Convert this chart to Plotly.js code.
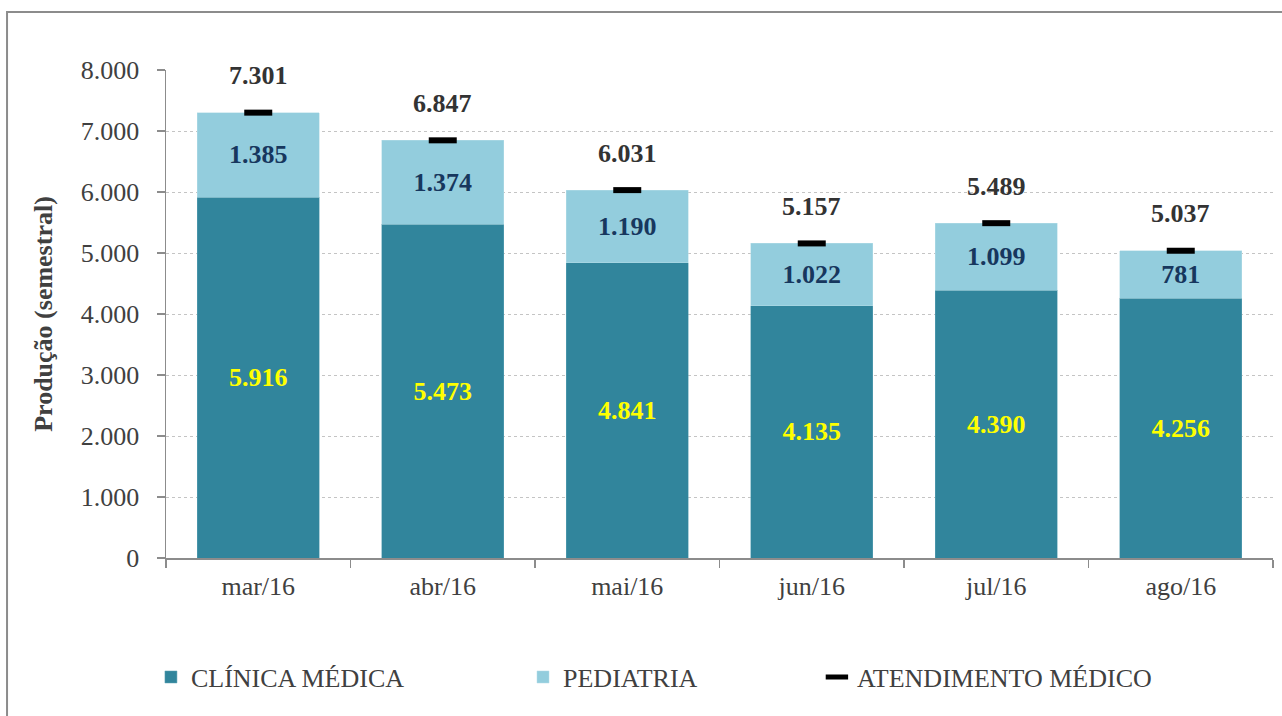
<!DOCTYPE html>
<html>
<head>
<meta charset="utf-8">
<script src="https://cdn.plot.ly/plotly-3.0.1.min.js"></script>
<style>
html,body{margin:0;padding:0;background:#fff;}
#chart{width:1282px;height:716px;}
</style>
</head>
<body>
<div id="chart"></div>
<script>
const categories = ['mar/16','abr/16','mai/16','jun/16','jul/16','ago/16'];
const clinicaMedica = [5916, 5473, 4841, 4135, 4390, 4256];
const pediatria = [1385, 1374, 1190, 1022, 1099, 781];
const atendimentoMedico = [7301, 6847, 6031, 5157, 5489, 5037];

const FONT = 'Liberation Serif, Times New Roman, serif';
const TEAL = '#31859C';
const LIGHT = '#93CDDD';

const traces = [
  {
    type: 'bar', name: 'CLÍNICA MÉDICA', x: categories, y: clinicaMedica,
    marker: {color: TEAL, line: {color: '#5fa3b5', width: 0.5}},
    texttemplate: '%{y:,.0f}', textposition: 'inside', insidetextanchor: 'middle',
    textfont: {family: FONT, size: 26, color: '#FFFF00', weight: 'bold'},
    constraintext: 'none', hoverinfo: 'skip', legend: 'legend'
  },
  {
    type: 'bar', name: 'PEDIATRIA', x: categories, y: pediatria,
    marker: {color: LIGHT, line: {color: '#b5dde8', width: 0.5}},
    texttemplate: '%{y:,.0f}', textposition: 'inside', insidetextanchor: 'middle',
    textfont: {family: FONT, size: 26, color: '#17375E', weight: 'bold'},
    constraintext: 'none', hoverinfo: 'skip', legend: 'legend2'
  },
  {
    type: 'scatter', mode: 'markers', name: 'ATENDIMENTO MÉDICO', x: categories, y: atendimentoMedico,
    marker: {symbol: 'line-ew', size: 20, color: '#000', line: {color: '#000', width: 6}},
    hoverinfo: 'skip', legend: 'legend3', cliponaxis: false
  }
];

const annotations = categories.map((c, i) => ({
  x: c, y: atendimentoMedico[i], xref: 'x', yref: 'y',
  text: atendimentoMedico[i].toLocaleString('de-DE'),
  showarrow: false, yshift: 37, yanchor: 'middle',
  font: {family: FONT, size: 26, color: '#333333', weight: 'bold'}
}));

const legendBase = {
  orientation: 'h', yanchor: 'middle', xanchor: 'left', y: -0.244,
  font: {family: FONT, size: 26, color: '#404040'},
  bgcolor: 'rgba(0,0,0,0)', itemclick: false, itemdoubleclick: false
};

const layout = {
  width: 1282, height: 716,
  margin: {l: 166, r: 9, t: 70, b: 158},
  paper_bgcolor: '#fff', plot_bgcolor: '#fff',
  barmode: 'stack', bargap: 0.34,
  separators: ',.',
  font: {family: FONT, size: 26, color: '#404040'},
  xaxis: {
    type: 'category', showgrid: false, zeroline: false,
    showline: true, linecolor: '#8c8c8c', linewidth: 1.5,
    ticks: 'outside', tickson: 'boundaries', ticklen: 8, tickcolor: '#8c8c8c', tickwidth: 1.5,
    tickfont: {family: FONT, size: 26, color: '#404040'}, ticklabelstandoff: 4
  },
  yaxis: {
    range: [0, 8000], dtick: 1000, tickformat: ',.0f',
    showgrid: true, gridcolor: '#c4c4c4', griddash: 'dot', gridwidth: 1,
    zeroline: false, showline: true, linecolor: '#8c8c8c', linewidth: 1.5,
    ticks: 'outside', ticklen: 8, tickcolor: '#8c8c8c', tickwidth: 1.5,
    tickfont: {family: FONT, size: 26, color: '#404040'}, ticklabelstandoff: 12,
    title: {text: 'Produção (semestral)', standoff: 20,
            font: {family: FONT, size: 26, color: '#404040', weight: 'bold'}}
  },
  showlegend: true,
  legend: Object.assign({}, legendBase, {x: -0.0136}),
  legend2: Object.assign({}, legendBase, {x: 0.3225}),
  legend3: Object.assign({}, legendBase, {x: 0.588}),
  annotations: annotations,
  shapes: [{
    type: 'rect', xref: 'paper', yref: 'paper',
    x0: -0.1436, x1: 1.2, y0: -0.6, y1: 1.1189,
    line: {color: '#8c8c8c', width: 2}, fillcolor: 'rgba(0,0,0,0)', layer: 'below'
  }],
  hovermode: false
};

Plotly.newPlot('chart', traces, layout, {displayModeBar: false, staticPlot: true});
</script>
</body>
</html>
